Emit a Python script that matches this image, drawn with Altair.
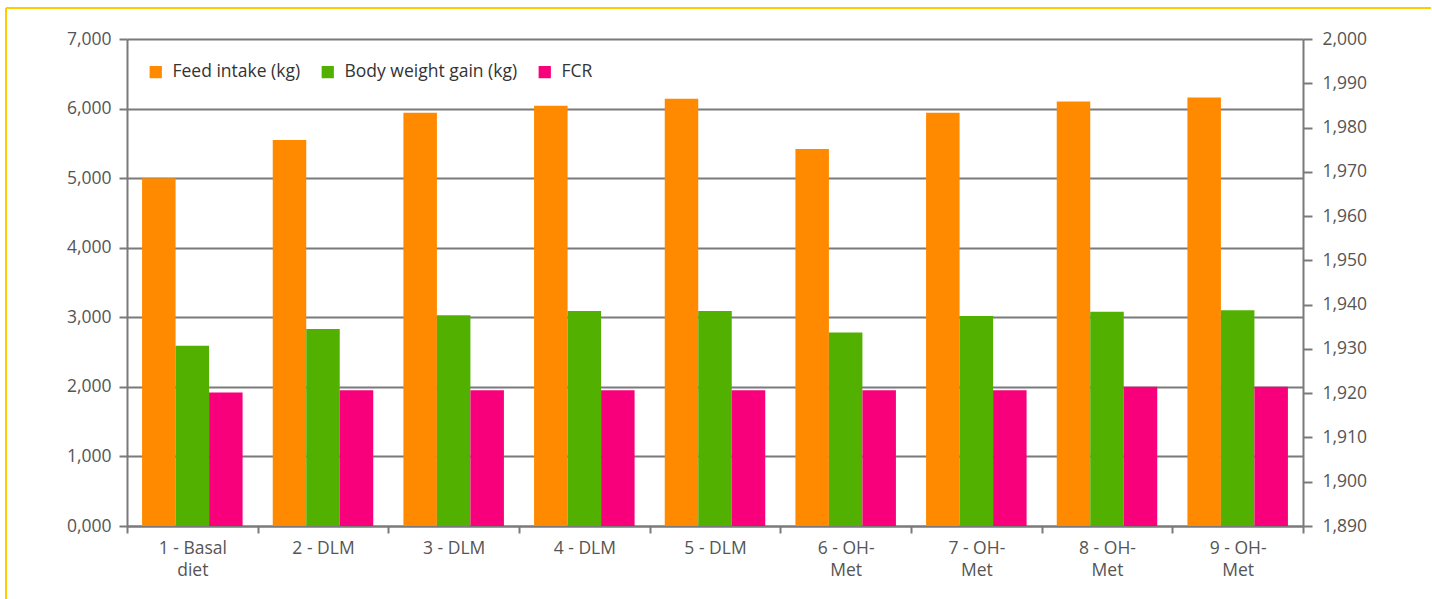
import altair as alt
import pandas as pd

categories = ["1 - Basal diet", "2 - DLM", "3 - DLM", "4 - DLM", "5 - DLM",
              "6 - OH-Met", "7 - OH-Met", "8 - OH-Met", "9 - OH-Met"]
label_lines = [["1 - Basal", "diet"], ["2 - DLM"], ["3 - DLM"], ["4 - DLM"], ["5 - DLM"],
               ["6 - OH-", "Met"], ["7 - OH-", "Met"], ["8 - OH-", "Met"], ["9 - OH-", "Met"]]
series_names = ["Feed intake (kg)", "Body weight gain (kg)", "FCR"]
feed_intake = [5.00, 5.55, 5.94, 6.04, 6.14, 5.42, 5.94, 6.10, 6.16]
body_weight_gain = [2.59, 2.83, 3.03, 3.09, 3.09, 2.78, 3.02, 3.08, 3.10]
fcr = [1.92, 1.95, 1.95, 1.95, 1.95, 1.95, 1.95, 2.00, 2.00]
colors = ["#ff8a00", "#52b000", "#f8007c"]
left_ticks = [0, 1, 2, 3, 4, 5, 6, 7]
right_ticks = [1.89, 1.90, 1.91, 1.92, 1.93, 1.94, 1.95, 1.96, 1.97, 1.98, 1.99, 2.00]

rows = []
for s, vals in zip(series_names, [feed_intake, body_weight_gain, fcr]):
    for c, v in zip(categories, vals):
        rows.append({"category": c, "series": s, "value": v})
df = pd.DataFrame(rows)

FONT = "Open Sans"
AX = "#7a7a7a"
LBL = "#555555"
FS = 17.5

lines_js = "[" + ",".join("[" + ",".join("'" + t + "'" for t in l) + "]" for l in label_lines) + "]"
cats_js = "[" + ",".join("'" + c + "'" for c in categories) + "]"

bars = alt.Chart(df).mark_bar().encode(
    x=alt.X("category:N", sort=categories, title=None,
            scale=alt.Scale(paddingInner=0, paddingOuter=0),
            axis=alt.Axis(labelAngle=0, tickBand="extent", domainColor=AX, domainWidth=2,
                          tickColor=AX, tickWidth=2, tickSize=7, labelColor=LBL,
                          labelFont=FONT, labelFontSize=FS, labelPadding=6,
                          labelLineHeight=22, labelBaseline="top",
                          labelExpr=f"{lines_js}[indexof({cats_js}, datum.label)]")),
    xOffset=alt.XOffset("series:N", sort=series_names,
                        scale=alt.Scale(paddingInner=0, paddingOuter=0.45)),
    y=alt.Y("value:Q", title=None,
            scale=alt.Scale(domain=[0, 7], nice=False),
            axis=alt.Axis(values=left_ticks, labelExpr="replace(format(datum.value, '.3f'), '.', ',')",
                          grid=True, gridColor=AX, gridWidth=2, domainColor=AX, domainWidth=2,
                          tickColor=AX, tickWidth=2, tickSize=8, labelColor=LBL,
                          labelFont=FONT, labelFontSize=FS, labelPadding=8)),
    color=alt.Color("series:N", sort=series_names,
                    scale=alt.Scale(domain=series_names, range=colors),
                    legend=alt.Legend(title=None, orient="none", legendX=20, legendY=24,
                                      direction="horizontal", symbolType="square",
                                      symbolSize=150, symbolStrokeWidth=0, labelLimit=500,
                                      labelFont=FONT, labelFontSize=FS, labelColor="#333333",
                                      labelOffset=8, columnPadding=18)),
)

right_df = pd.DataFrame({"v": right_ticks})
right_axis = alt.Chart(right_df).mark_rule(opacity=0).encode(
    y=alt.Y("v:Q", title=None,
            scale=alt.Scale(domain=[1.89, 2.0], nice=False, zero=False),
            axis=alt.Axis(orient="right", values=right_ticks,
                          labelExpr="replace(format(datum.value, '.3f'), '.', ',')",
                          grid=False, domainColor=AX, domainWidth=2,
                          tickColor=AX, tickWidth=2, tickSize=9, labelColor=LBL,
                          labelFont=FONT, labelFontSize=FS, labelPadding=10)),
)

frame_data = alt.Data(values=[{}])
frame_top = alt.Chart(frame_data).mark_rule(color="#ffcc00", strokeWidth=2).encode(
    x=alt.value(-121), x2=alt.value(1304), y=alt.value(-31))
frame_left = alt.Chart(frame_data).mark_rule(color="#ffcc00", strokeWidth=2).encode(
    x=alt.value(-121), y=alt.value(-31), y2=alt.value(565))

chart = alt.layer(bars, right_axis, frame_top, frame_left).resolve_scale(
    y="independent"
).properties(
    width=1176, height=487,
    autosize=alt.AutoSizeParams(type="none"),
    padding={"left": 127, "top": 39, "right": 129, "bottom": 73},
    background="white",
).configure_view(stroke=None)

chart.save("out.html", embed_options={"renderer": "svg", "actions": False})
